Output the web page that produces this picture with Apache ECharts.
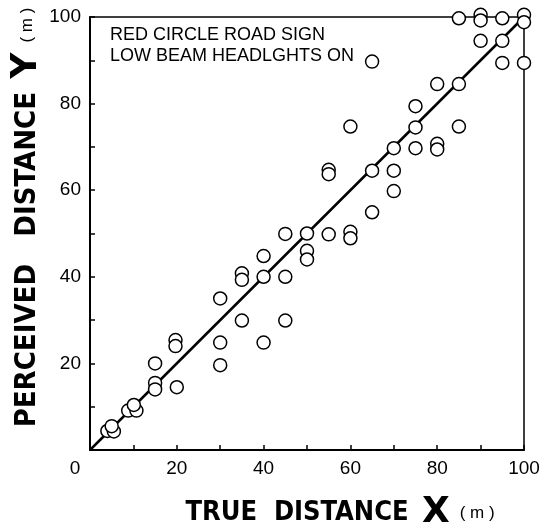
<!DOCTYPE html>
<html>
<head>
<meta charset="utf-8">
<script src="https://cdn.jsdelivr.net/npm/echarts@6/dist/echarts.min.js"></script>
<style>
  html, body { margin: 0; padding: 0; background: #fff; }
  #chart { width: 554px; height: 529px; }
</style>
</head>
<body>
<div id="chart"></div>
<script>
(function () {
    'use strict';

    // true distance X (m) and perceived distance Y (m)
    var trueX = [4, 5.5, 5, 8.8, 10.7, 10.1, 15, 15, 15, 19.7, 19.7, 20,
        30, 30, 35, 40, 45, 30, 35, 35, 40, 40, 45, 45, 50, 50, 50,
        55, 60, 60, 55, 55, 65, 70, 70, 65,
        70, 75, 80, 80, 75, 60, 85, 75, 80, 85, 65, 95, 100, 90, 95,
        85, 90, 90, 95, 100, 100];
    var perceivedY = [4.4, 4.3, 5.5, 9.1, 9.1, 10.4, 20, 15.5, 14, 25.4, 24, 14.5,
        19.6, 24.8, 29.9, 24.8, 29.9, 35, 40.8, 39.3, 44.8, 40, 49.9, 40, 50, 46, 44,
        49.8, 50.4, 48.9, 64.7, 63.7, 64.5, 64.5, 59.8, 54.9,
        69.7, 69.7, 70.7, 69.4, 74.5, 74.7, 74.7, 79.4, 84.5, 84.5, 89.7, 89.4, 89.4, 94.5, 94.5,
        99.7, 100.5, 99.2, 99.7, 100.5, 98.8];
    // line of perfect agreement Y = X
    var diagonal = [[0, 0], [100, 100]];
    var note = ['RED CIRCLE ROAD SIGN', 'LOW BEAM HEADLGHTS ON'];

    var points = trueX.map(function (x, i) { return [x, perceivedY[i]]; });

    var myChart = echarts.init(document.getElementById('chart'));

    var tickFont = { color: '#000', fontFamily: 'Liberation Sans', fontSize: 19 };
    function titleRich(size) {
        return {
            t: { fontFamily: 'DejaVu Sans Condensed', fontWeight: 'bold', fontSize: size, color: '#000' },
            x: { fontFamily: 'DejaVu Sans', fontWeight: 'bold', fontSize: 36, color: '#000' },
            m: { fontFamily: 'Liberation Sans', fontSize: 17, color: '#000' }
        };
    }

    var option = {
        backgroundColor: '#fff',
        animation: false,
        grid: {
            left: 90, right: 30, top: 17, bottom: 79,
            outerBoundsMode: 'none',
            show: true, borderColor: '#000', borderWidth: 1.5
        },
        xAxis: {
            type: 'value', min: 0, max: 100, interval: 10,
            name: '{t|TRUE  DISTANCE}    {x|X}   {m|( m )}',
            nameLocation: 'middle', nameGap: 45,
            nameTextStyle: { padding: [0, 0, 0, 66], rich: titleRich(27) },
            axisLine: { lineStyle: { color: '#000', width: 2 } },
            axisTick: { inside: true, length: 5, lineStyle: { color: '#000', width: 1.5 } },
            splitLine: { show: false },
            axisLabel: Object.assign({
                margin: 9,
                formatter: function (v) {
                    if (v === 0) return '{z|0}';
                    return v % 20 === 0 ? String(v) : '';
                },
                rich: { z: { padding: [0, 30, 0, 0], fontFamily: 'Liberation Sans', fontSize: 19, color: '#000' } }
            }, tickFont)
        },
        yAxis: {
            type: 'value', min: 0, max: 100, interval: 10,
            name: '{t|PERCEIVED   DISTANCE}    {x|Y}   {m|( m )}',
            nameLocation: 'middle', nameGap: 45,
            nameMoveOverlap: false,
            nameTextStyle: { padding: [0, 0, 0, 32], rich: titleRich(29) },
            axisLine: { lineStyle: { color: '#000', width: 2 } },
            axisTick: { inside: true, length: 5, lineStyle: { color: '#000', width: 1.5 } },
            splitLine: { show: false },
            axisLabel: Object.assign({
                margin: 9,
                formatter: function (v) {
                    return (v !== 0 && v % 20 === 0) ? String(v) : '';
                }
            }, tickFont)
        },
        graphic: [{
            type: 'text', left: 110, top: 25,
            style: {
                text: note.join('\n'),
                font: '18px "Liberation Sans"',
                lineHeight: 21,
                fill: '#000'
            }
        }],
        series: [
            {
                type: 'line',
                data: diagonal,
                symbol: 'none',
                lineStyle: { color: '#000', width: 2.5 },
                z: 1
            },
            {
                type: 'scatter',
                data: points,
                clip: false,
                symbol: 'circle',
                symbolSize: 13,
                itemStyle: { color: '#fff', borderColor: '#000', borderWidth: 1.5, opacity: 1 },
                z: 2
            }
        ]
    };

    myChart.setOption(option);
})();
</script>
</body>
</html>
